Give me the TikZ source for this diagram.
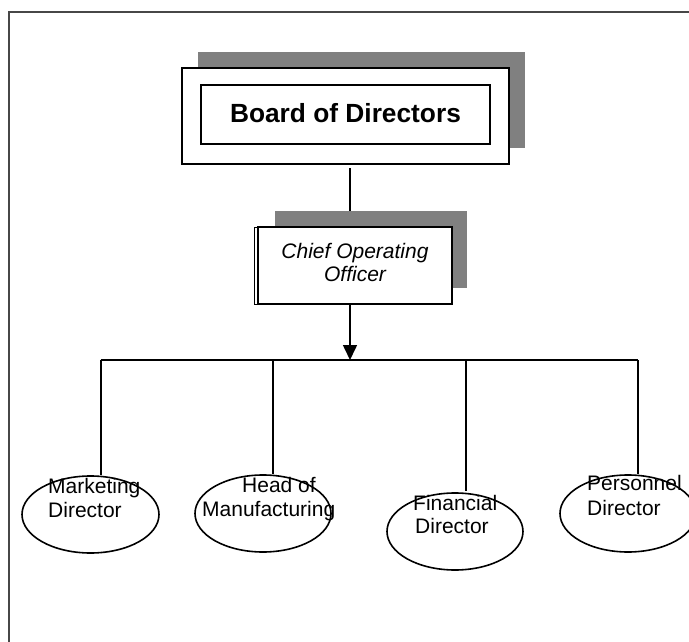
\documentclass[tikz,border=0pt]{standalone}
\usepackage{fontspec}
\setmainfont{Liberation Sans}
\usetikzlibrary{arrows.meta,shapes.geometric}
\begin{document}
\begin{tikzpicture}[x=1pt,y=-1pt,
  lw/.style={line width=1.6pt},
  shadowbox/.style={rectangle,fill=black!50,draw=none,inner sep=0pt},
  mainbox/.style={rectangle,draw,lw,fill=white,inner sep=0pt},
  oval/.style={ellipse,draw,lw,inner sep=0pt,minimum width=137pt,minimum height=77pt},
  lbl/.style={inner sep=0pt,anchor=base west,font=\fontsize{21}{24}\selectfont},
  conn/.style={lw},
  arr/.style={lw,-{Triangle[length=15pt,width=14pt]}}]
\useasboundingbox (0,0) rectangle (689,642);
% outer frame (only left and top edges visible)
\draw[line width=2.2pt,black!72] (9.3,650) -- (9.3,12.3) -- (700,12.3);

% connector board -> COO (behind shadow)
\coordinate (j1) at (350,168);
\coordinate (j2) at (350,227);
\draw[conn] (j1) -- (j2);

% Board of Directors
\node[shadowbox,minimum width=327pt,minimum height=96pt] (bshadow) at (361.5,100) {};
\node[mainbox,minimum width=327pt,minimum height=96pt] (board) at (345.5,116) {};
\node[rectangle,draw,lw,inner sep=0pt,minimum width=289pt,minimum height=59pt] (boardin) at (345.5,114.5) {};
\node[inner sep=0pt,anchor=base,font=\fontsize{26.3}{30}\selectfont\bfseries] (boardtxt) at (345.5,122) {Board of Directors};

% Chief Operating Officer
\node[shadowbox,minimum width=192pt,minimum height=77pt] (cshadow) at (371,249.5) {};
\node[rectangle,draw,line width=0.9pt,fill=white,inner sep=0pt,minimum width=198pt,minimum height=77pt] (cooback) at (353,265.5) {};
\node[mainbox,minimum width=194pt,minimum height=77pt] (coo) at (355,265.5) {};
\node[inner sep=0pt,anchor=base,font=\fontsize{21}{23}\selectfont\itshape] (coo1) at (355,258) {Chief Operating};
\node[inner sep=0pt,anchor=base,font=\fontsize{21}{23}\selectfont\itshape] (coo2) at (355,281) {Officer};

% arrow to bar
\coordinate (barc) at (350,360);
\draw[arr] (barc |- coo.south) -- (barc);

% bar and drops
\coordinate (d1) at (100.7,360);
\coordinate (d2) at (273,360);
\coordinate (d3) at (466,360);
\coordinate (d4) at (638,360);
\draw[conn] (d1) -- (d4);

% ellipses
\node[oval] (mk) at (90.5,514.5) {};
\node[oval,minimum width=136pt] (hm) at (263,513.5) {};
\node[oval,minimum width=136pt] (fd) at (455,531.5) {};
\node[oval,minimum width=136pt] (pd) at (628,513.5) {};

\draw[conn] (d1) -- (d1 |- mk.north);
\draw[conn] (d2) -- (d2 |- hm.north);
\draw[conn] (d3) -- ([yshift=1pt]d3 |- fd.north);
\draw[conn] (d4) -- (d4 |- pd.north);

% labels
\node[lbl] (mk1) at (48,493) {Marketing};
\node[lbl] (mk2) at (48,517) {Director};
\node[lbl] (hm1) at (242,492) {Head of};
\node[lbl] (hm2) at (202,516) {Manufacturing};
\node[lbl] (fd1) at (413,510) {Financial};
\node[lbl] (fd2) at (415,533) {Director};
\node[lbl] (pd1) at (587,490) {Personnel};
\node[lbl] (pd2) at (587,515) {Director};
\end{tikzpicture}
\end{document}
